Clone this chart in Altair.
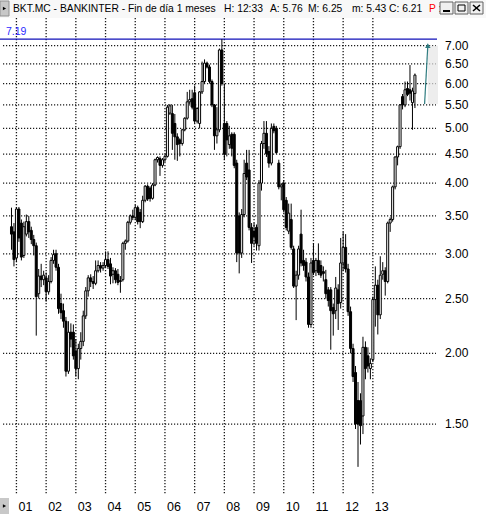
import altair as alt
import pandas as pd

# Monthly candles for BKT.MC, first candle = November 2000.
# Month index 0 is January 2001.
FIRST_MONTH = -2

opens = [
    3.35, 3.28,
    2.95, 3.60, 3.40, 2.98, 3.25, 3.42, 3.30, 3.18, 3.10, 2.55, 2.74, 2.70,
    2.72, 2.57, 2.68, 2.92, 3.00, 2.84, 2.45, 2.38, 2.28, 1.86, 2.18, 2.18,
    2.02, 1.88, 2.04, 2.10, 2.33, 2.58, 2.72, 2.68, 2.66, 2.80, 2.86, 2.83,
    2.86, 2.93, 2.88, 2.76, 2.80, 2.76, 2.69, 2.70, 3.13, 3.16, 3.41, 3.50,
    3.48, 3.62, 3.55, 3.42, 3.73, 3.95, 3.92, 3.76, 3.97, 4.40, 4.42, 4.30,
    4.40, 4.46, 5.32, 5.31, 5.10, 4.83, 4.77, 4.70, 4.97, 5.21, 5.57, 5.64,
    5.78, 5.15, 5.10, 5.80, 6.05, 6.52, 6.42, 6.05, 5.50, 4.85, 4.97, 6.88,
    5.10, 5.10, 4.68, 4.88, 4.88, 4.34, 3.50, 3.01, 3.52, 4.34, 4.22, 3.34,
    3.29, 3.34, 3.10, 4.00, 4.70, 4.90, 4.55, 4.34, 5.04, 5.00, 4.34, 3.94,
    4.00, 3.73, 3.29, 3.45, 3.06, 2.63, 2.75, 3.25, 2.92, 2.90, 2.73, 2.25,
    2.92, 2.80, 2.92, 2.86, 2.79, 2.70, 2.59, 2.59, 2.41, 2.38, 2.59, 2.46,
    2.89, 3.08, 2.82, 2.37, 2.04, 1.85, 1.65, 1.65, 1.55, 2.05, 1.98, 1.88,
    1.95, 2.49, 2.64, 2.34, 2.76, 2.80, 2.68, 3.40, 3.45, 3.94, 4.45, 4.64,
    5.69, 5.50, 5.88, 5.85, 5.55, 5.76,
]
highs = [
    3.62, 3.40,
    3.63, 3.63, 3.45, 3.42, 3.52, 3.50, 3.35, 3.24, 3.14, 2.82, 2.88, 2.80,
    2.78, 2.75, 2.96, 3.05, 3.05, 2.88, 2.55, 2.45, 2.32, 2.28, 2.26, 2.25,
    2.12, 2.08, 2.18, 2.38, 2.62, 2.75, 2.76, 2.74, 2.92, 2.92, 2.90, 2.90,
    3.03, 3.03, 2.95, 2.84, 2.83, 2.82, 2.74, 3.15, 3.18, 3.43, 3.52, 3.59,
    3.66, 3.65, 3.60, 3.80, 3.97, 3.98, 3.95, 4.00, 4.42, 4.46, 4.46, 4.43,
    4.50, 5.50, 5.52, 5.50, 5.30, 4.90, 4.80, 4.99, 5.23, 5.80, 5.85, 5.85,
    5.95, 5.45, 5.82, 6.56, 6.62, 6.56, 6.48, 6.10, 5.52, 5.45, 6.92, 7.19,
    6.00, 5.15, 5.05, 4.92, 4.92, 4.40, 3.55, 3.60, 4.40, 4.58, 4.58, 3.40,
    3.40, 3.38, 4.05, 4.75, 5.15, 5.15, 4.65, 5.10, 5.10, 5.05, 4.40, 4.00,
    4.05, 3.78, 3.68, 3.68, 3.10, 2.80, 3.10, 3.59, 3.05, 2.95, 2.78, 2.95,
    3.13, 2.95, 3.13, 2.92, 2.85, 2.81, 2.62, 2.62, 2.45, 2.73, 2.65, 3.20,
    3.28, 3.25, 2.88, 2.42, 2.08, 1.90, 1.78, 1.70, 2.14, 2.10, 2.05, 1.96,
    2.52, 2.85, 2.70, 2.97, 2.90, 2.84, 3.42, 3.48, 3.96, 4.46, 4.66, 5.52,
    5.75, 6.05, 6.05, 6.47, 5.90, 6.25,
]
lows = [
    3.05, 2.85,
    2.90, 3.15, 2.92, 2.95, 3.22, 3.20, 3.12, 2.98, 2.15, 2.50, 2.62, 2.64,
    2.47, 2.54, 2.66, 2.88, 2.80, 2.35, 2.30, 2.22, 1.82, 1.84, 2.05, 1.95,
    1.82, 1.80, 1.95, 2.06, 2.30, 2.52, 2.62, 2.60, 2.64, 2.78, 2.78, 2.80,
    2.84, 2.82, 2.65, 2.66, 2.66, 2.64, 2.56, 2.68, 3.05, 3.14, 3.38, 3.44,
    3.45, 3.38, 3.33, 3.40, 3.70, 3.72, 3.71, 3.74, 3.95, 4.35, 4.12, 4.26,
    4.36, 4.44, 5.28, 4.58, 4.40, 4.38, 4.46, 4.66, 4.94, 5.18, 5.52, 5.40,
    5.10, 5.10, 5.00, 5.75, 6.00, 6.38, 6.00, 5.45, 4.58, 4.70, 4.92, 5.95,
    4.40, 4.46, 4.60, 4.46, 4.25, 2.90, 2.77, 2.95, 3.48, 4.05, 3.30, 2.89,
    3.10, 3.04, 3.04, 3.88, 4.60, 4.45, 4.26, 4.30, 4.90, 4.50, 3.90, 3.73,
    3.55, 3.30, 3.25, 3.05, 2.61, 2.29, 2.70, 2.85, 2.80, 2.68, 2.22, 2.22,
    2.75, 2.74, 2.75, 2.72, 2.68, 2.50, 2.42, 2.03, 2.15, 2.30, 2.20, 2.40,
    2.80, 2.78, 2.33, 2.00, 1.78, 1.47, 1.26, 1.38, 1.44, 1.80, 1.85, 1.80,
    1.93, 2.23, 2.16, 2.30, 2.70, 2.53, 2.66, 3.28, 3.42, 3.90, 4.30, 4.60,
    5.40, 5.45, 5.70, 5.60, 4.97, 5.43,
]
closes = [
    3.25, 2.93,
    3.60, 3.20, 2.96, 3.35, 3.42, 3.28, 3.18, 3.10, 2.52, 2.74, 2.70, 2.75,
    2.57, 2.68, 2.92, 2.99, 2.84, 2.40, 2.36, 2.28, 1.86, 2.18, 2.12, 1.98,
    1.88, 2.04, 2.10, 2.33, 2.58, 2.72, 2.68, 2.66, 2.80, 2.86, 2.83, 2.86,
    2.93, 2.85, 2.74, 2.80, 2.70, 2.67, 2.68, 3.13, 3.16, 3.41, 3.50, 3.48,
    3.62, 3.42, 3.42, 3.73, 3.95, 3.75, 3.76, 3.97, 4.40, 4.44, 4.30, 4.40,
    4.46, 5.45, 5.48, 4.90, 4.83, 4.68, 4.70, 4.97, 5.21, 5.57, 5.62, 5.45,
    5.15, 5.42, 5.80, 6.05, 6.52, 6.42, 6.05, 5.50, 4.85, 4.97, 6.88, 6.00,
    4.50, 4.77, 4.85, 4.61, 4.30, 3.01, 3.01, 3.52, 4.16, 4.10, 3.34, 3.13,
    3.22, 3.13, 4.00, 4.70, 4.90, 4.51, 4.34, 5.00, 4.95, 4.53, 3.94, 3.97,
    3.59, 3.34, 3.54, 3.08, 2.63, 2.75, 3.06, 2.89, 2.86, 2.73, 2.25, 2.89,
    2.78, 2.92, 2.78, 2.75, 2.77, 2.55, 2.48, 2.38, 2.35, 2.61, 2.45, 2.89,
    3.08, 2.82, 2.37, 2.04, 1.82, 1.50, 1.50, 1.49, 2.05, 1.88, 1.90, 1.92,
    2.49, 2.64, 2.34, 2.75, 2.80, 2.68, 3.40, 3.45, 3.94, 4.45, 4.64, 5.50,
    5.50, 5.85, 5.74, 5.77, 5.82, 6.21,
]

year_labels = ["01", "02", "03", "04", "05", "06", "07",
               "08", "09", "10", "11", "12", "13"]
price_ticks = [1.5, 2.0, 2.5, 3.0, 3.5, 4.0, 4.5, 5.0, 5.5, 6.0, 6.5, 7.0]
top_level = 7.19
arrow_from = 5.52
arrow_to = 7.0

header_main = "BKT.MC - BANKINTER - Fin de día 1 meses"
header_fields = ["H: 12:33", "A: 5.76", "M: 6.25", "m: 5.43", "C: 6.21"]

months = list(range(FIRST_MONTH, FIRST_MONTH + len(closes)))
candles = pd.DataFrame({"m": months, "o": opens, "h": highs, "l": lows, "c": closes})
year_starts = pd.DataFrame({"m": [12 * i for i in range(len(year_labels))], "lab": year_labels})
price_grid = pd.DataFrame({"p": price_ticks})

FONT = "Liberation Sans"
HDR_SIZE = 10.3
PLOT_W, PLOT_H = 438, 475
x_scale = alt.Scale(domain=[-4.62, 168.3], nice=False, zero=False)
y_scale = alt.Scale(type="log", domain=[1.1236, 7.772], nice=False)


def X(field):
    return alt.X(field, scale=x_scale, axis=None)


def Y(field):
    return alt.Y(field, scale=y_scale, axis=None)


# Dotted grid
grid_style = dict(color="#1a1a1a", strokeDash=[1.2, 1.8], strokeWidth=1.3, opacity=1)
grid_v = alt.Chart(year_starts).mark_rule(**grid_style).encode(
    x=X("m:Q"), y=alt.value(-2), y2=alt.value(PLOT_H)
)
grid_h = alt.Chart(price_grid).mark_rule(**grid_style).encode(
    y=Y("p:Q"), x=alt.value(3), x2=alt.value(PLOT_W - 2)
)

# Axis labels: prices on the right, years along the bottom
price_labels = alt.Chart(price_grid).mark_text(
    font=FONT, fontSize=12, color="#000000", align="left", baseline="middle"
).encode(y=Y("p:Q"), x=alt.value(PLOT_W + 7), text=alt.Text("p:Q", format=".2f"))
year_text = alt.Chart(year_starts).mark_text(
    font=FONT, fontSize=12.5, color="#000000", align="left", baseline="top", dx=2
).encode(x=X("m:Q"), y=alt.value(PLOT_H + 6), text="lab:N")

base = alt.Chart(candles)
wicks = base.mark_rule(color="#000000", strokeWidth=1).encode(
    x=X("m:Q"), y=Y("l:Q"), y2="h:Q",
)
bodies = base.mark_bar(size=2, stroke="#000000", strokeWidth=1).encode(
    x=X("m:Q"), y=Y("o:Q"), y2="c:Q",
    fill=alt.condition("datum.c < datum.o", alt.value("#000000"), alt.value("#ffffff")),
)

# Level of the period high, with its label
level = alt.Chart(pd.DataFrame({"p": [top_level]}))
level_rule = level.mark_rule(color="#1010b8", strokeWidth=1.2).encode(
    y=Y("p:Q"), x=alt.value(0), x2=alt.value(437)
)
level_text = level.mark_text(
    color="#2a2aff", font=FONT, fontSize=10.5, align="left", baseline="bottom", dy=-2
).encode(y=Y("p:Q"), x=alt.value(6), text=alt.Text("p:Q", format=".2f"))

# Trend arrow on the right edge
arrow_df = pd.DataFrame({"m0": [164.9], "m1": [166.2], "p0": [arrow_from], "p1": [arrow_to]})
arrow_shadow = alt.Chart(arrow_df).mark_rect(color="#e6e6e6", opacity=0.7).encode(
    x=X("m1:Q"), x2=alt.value(438), y=Y("p0:Q"), y2="p1:Q",
)
arrow_line = alt.Chart(arrow_df).mark_rule(color="#2f7c80", strokeWidth=1.2).encode(
    x=X("m0:Q"), x2="m1:Q", y=Y("p0:Q"), y2="p1:Q",
)
arrow_head = alt.Chart(arrow_df).mark_point(
    shape="triangle-up", filled=True, color="#2f7c80", size=30, opacity=1
).encode(x=X("m1:Q"), y=Y("p1:Q"))

# Window header row above the plot
hdr = alt.Chart(pd.DataFrame({"t": [header_main]}))
header_bg = hdr.mark_rect(color="#f8f8f8").encode(
    x=alt.value(0), x2=alt.value(486), y=alt.value(-20), y2=alt.value(-2)
)
header_btn = hdr.mark_rect(color="#c8c8c8", stroke="#909090").encode(
    x=alt.value(0), x2=alt.value(9), y=alt.value(-19), y2=alt.value(-4)
)
header_tri = hdr.mark_point(shape="triangle-right", filled=True, color="#000000", size=14, opacity=1).encode(
    x=alt.value(4.5), y=alt.value(-11.5)
)
header_title = hdr.mark_text(font=FONT, fontSize=HDR_SIZE, align="left", baseline="middle", color="#000000").encode(
    x=alt.value(13), y=alt.value(-11), text="t:N"
)
field_x = [224, 270, 308, 352, 389]
field_layers = [
    alt.Chart(pd.DataFrame({"t": [txt]})).mark_text(
        font=FONT, fontSize=HDR_SIZE, align="left", baseline="middle", color="#000000"
    ).encode(x=alt.value(fx), y=alt.value(-11), text="t:N")
    for txt, fx in zip(header_fields, field_x)
]
flag_text = hdr.mark_text(font=FONT, fontSize=HDR_SIZE, align="left", baseline="middle", color="#ff0000").encode(
    x=alt.value(429), y=alt.value(-11), text=alt.value("P :")
)

# Minimise / maximise / close boxes
btn_layers = []
for bx in [440, 455, 470]:
    btn_layers.append(
        hdr.mark_rect(color="#f0f0f0", stroke="#606060").encode(
            x=alt.value(bx), x2=alt.value(bx + 13), y=alt.value(-18), y2=alt.value(-6)
        )
    )
btn_layers.append(hdr.mark_rule(color="#000000", strokeWidth=2).encode(
    x=alt.value(443), x2=alt.value(450), y=alt.value(-9)))
btn_layers.append(hdr.mark_rect(fill="#f0f0f0", stroke="#000000", strokeWidth=1).encode(
    x=alt.value(458), x2=alt.value(465), y=alt.value(-15), y2=alt.value(-9)))
btn_layers.append(hdr.mark_rule(color="#000000", strokeWidth=1.6).encode(
    x=alt.value(473), x2=alt.value(480), y=alt.value(-15), y2=alt.value(-9)))
btn_layers.append(hdr.mark_rule(color="#000000", strokeWidth=1.6).encode(
    x=alt.value(480), x2=alt.value(473), y=alt.value(-15), y2=alt.value(-9)))

# Small button in the lower-left corner
corner_btn = hdr.mark_rect(color="#c8c8c8").encode(
    x=alt.value(0), x2=alt.value(9), y=alt.value(478), y2=alt.value(494)
)
corner_tri = hdr.mark_point(shape="triangle-right", filled=True, color="#000000", size=14, opacity=1).encode(
    x=alt.value(4.5), y=alt.value(486)
)

chart = alt.layer(
    grid_v, grid_h, price_labels, year_text,
    header_bg, header_btn, header_tri, header_title, *field_layers, flag_text, *btn_layers,
    arrow_shadow, level_rule, level_text, wicks, bodies, arrow_line, arrow_head,
    corner_btn, corner_tri,
).properties(
    width=PLOT_W, height=PLOT_H,
    autosize=alt.AutoSizeParams(type="none"),
    padding={"left": 0, "top": 20, "right": 48, "bottom": 20},
    background="#ffffff",
).configure_view(stroke=None)

chart.save("out.html", embed_options={"renderer": "svg", "actions": False})
